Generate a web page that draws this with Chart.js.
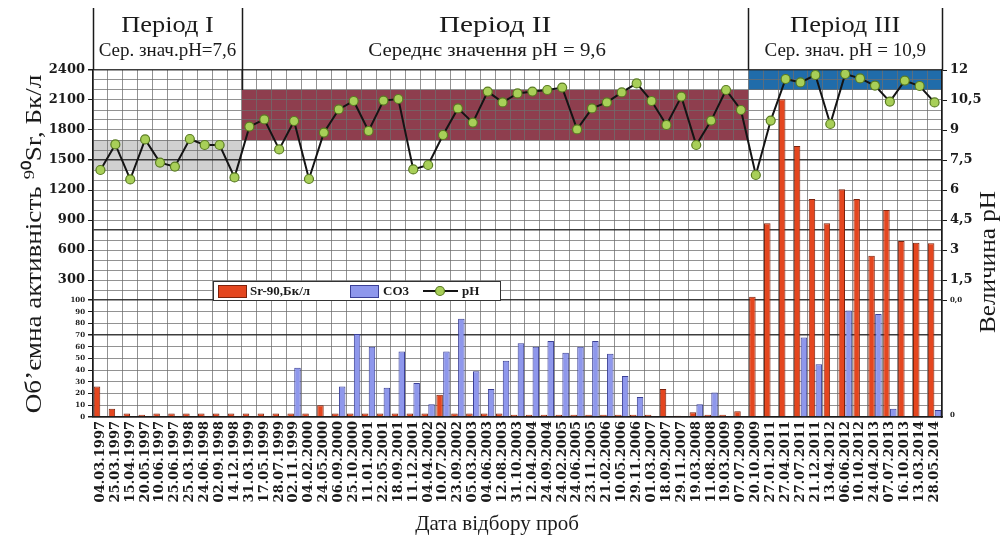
<!DOCTYPE html>
<html>
<head>
<meta charset="utf-8">
<script src="https://cdn.jsdelivr.net/npm/chart.js@4.4.1/dist/chart.umd.min.js"></script>
<style>
  html, body { margin: 0; padding: 0; background: #fff; }
  #wrap { position: relative; width: 1005px; height: 536px; }
  canvas { display: block; }
</style>
</head>
<body>
<div id="wrap"><canvas id="c" width="1005" height="536"></canvas></div>
<script>
// Sampling dates
const dates = [
  '04.03.1997','25.03.1997','15.04.1997','20.05.1997','10.06.1997','25.06.1997',
  '25.03.1998','24.06.1998','02.09.1998','14.12.1998',
  '31.03.1999','17.05.1999','28.07.1999','02.11.1999',
  '04.02.2000','24.05.2000','06.09.2000','25.10.2000',
  '11.01.2001','22.05.2001','18.09.2001','11.12.2001',
  '04.04.2002','10.07.2002','23.09.2002',
  '05.03.2003','04.06.2003','12.08.2003','31.10.2003',
  '12.04.2004','24.09.2004',
  '24.02.2005','24.06.2005','23.11.2005',
  '21.02.2006','10.05.2006','29.11.2006',
  '01.03.2007','18.09.2007','29.11.2007',
  '19.03.2008','11.08.2008','19.03.2009','07.07.2009',
  '20.10.2009',
  '27.01.2011','27.04.2011','27.07.2011',
  '21.12.2011','13.04.2012','06.06.2012','10.10.2012',
  '24.04.2013','07.07.2013','16.10.2013',
  '13.03.2014','28.05.2014'
];

// Volumetric activity of Sr-90, Bq/l
const sr90 = [
  26, 7, 3, 2, 3, 3, 3, 3, 3, 3,
  3, 3, 3, 3, 3, 10, 3, 3, 3, 3, 3, 3, 3, 19, 3, 3, 3, 3, 2, 2,
  2, 2, 2, 2, 2, 2, 2, 2, 24, 1, 4, 2, 2, 5,
  133, 867, 2107, 1640, 1110, 867, 1207, 1110, 543, 1000, 690, 673, 667
];

// Carbonate (CO3) content
const co3 = [
  null, null, null, null, null, null, null, null, null, null,
  null, null, null, 42, null, null, 26, 71, 60, 25, 56, 29, 11, 56, 84, 39, 24, 48, 63, 60,
  65, 55, 60, 65, 54, 35, 17, null, null, null, 11, 21, null, null,
  null, null, null, 68, 45, null, 91, null, 88, 7, null, null, 6
];

// pH of the samples
const ph = [
  7.0, 8.28, 6.53, 8.53, 7.37, 7.17, 8.55, 8.25, 8.25, 6.63,
  9.17, 9.53, 8.03, 9.45, 6.55, 8.87, 10.03, 10.45, 8.95, 10.47, 10.55, 7.03, 7.25, 8.75,
  10.08, 9.37, 10.92, 10.38, 10.83, 10.92, 11.0, 11.12, 9.03, 10.08, 10.38, 10.88, 11.33,
  10.45, 9.25, 10.67, 8.25, 9.47, 11.0, 10.0,
  6.75, 9.47, 11.55, 11.38, 11.75, 9.3, 11.8, 11.58, 11.22, 10.42, 11.47, 11.2, 10.38
];

// Periods
const periodNames = ['Період I', 'Період II', 'Період III'];
const periodNotes = ['Сер. знач.pH=7,6', 'Середнє значення pH = 9,6', 'Сер. знач. pH = 10,9'];
const periodFirst = [0, 10, 44];
const periodLast = [9, 43, 56];
const bandFrom = [1400, 1700, 2200];
const bandTo = [1700, 2200, 2400];

// Axis ticks
const lowTicks = [0, 10, 20, 30, 40, 50, 60, 70, 80, 90, 100];
const highTicks = [200, 300, 400, 500, 600, 700, 800, 900, 1000, 1100, 1200, 1300, 1400, 1500,
  1600, 1700, 1800, 1900, 2000, 2100, 2200, 2300, 2400];
const phTicks = [0, 1.5, 3, 4.5, 6, 7.5, 9, 10.5, 12];

// value -> share of plot height, piecewise (lower panel 0..100, upper panel above)
const SCALE_STOPS = {
  yL: [[0, 0], [100, 117 / 347], [2400, 1]],
  yPH: [[0, 117 / 347], [1.5, 137 / 347], [12, 1]]
};
const SCALE_TICKS = {
  yL: lowTicks.concat(highTicks),
  yPH: phTicks
};

class PiecewiseScale extends Chart.LinearScale {
  static id = 'piecewise';
  static defaults = {};
  _toDecimal(v) {
    const s = SCALE_STOPS[this.id];
    if (v <= s[0][0]) return s[0][1];
    for (let i = 1; i < s.length; i++) {
      if (v <= s[i][0]) {
        const [v0, f0] = s[i - 1], [v1, f1] = s[i];
        return f0 + (v - v0) / (v1 - v0) * (f1 - f0);
      }
    }
    return s[s.length - 1][1];
  }
  getPixelForValue(v) {
    if (v === null || v === undefined || isNaN(v)) return NaN;
    return this.getPixelForDecimal(this._toDecimal(v));
  }
  getValueForPixel(p) {
    const d = this.getDecimalForPixel(p);
    const s = SCALE_STOPS[this.id];
    for (let i = 1; i < s.length; i++) {
      if (d <= s[i][1]) {
        const [v0, f0] = s[i - 1], [v1, f1] = s[i];
        return v0 + (d - f0) / (f1 - f0) * (v1 - v0);
      }
    }
    return s[s.length - 1][0];
  }
  buildTicks() {
    return SCALE_TICKS[this.id].map(v => ({ value: v }));
  }
}
Chart.register(PiecewiseScale);

const SERIF = "'Liberation Serif', 'Times New Roman', serif";
const TICKFONT = "'DejaVu Serif', serif";
const INK = '#1a1a1a';
const GRID = 'rgba(110,110,110,0.75)';
const GRID_DARK = 'rgba(40,40,40,0.9)';
const bandColors = ['rgba(200,200,200,0.85)', 'rgb(142,62,78)', 'rgb(32,108,170)'];
const darkLeft = [0, 70, 100, 800, 1500, 2400];

function stretchedText(ctx, text, x, y, sx, angle) {
  ctx.save();
  ctx.translate(x, y);
  if (angle) ctx.rotate(angle);
  ctx.scale(sx, 1);
  ctx.fillText(text, 0, 0);
  ctx.restore();
}

const decor = {
  id: 'decor',
  beforeDraw(chart) {
    const { ctx, scales: { x, yL } } = chart;
    ctx.save();
    for (let p = 0; p < periodFirst.length; p++) {
      const x0 = x.getPixelForValue(periodFirst[p] - 0.5);
      const x1 = x.getPixelForValue(periodLast[p] + 0.5);
      const y0 = yL.getPixelForValue(bandTo[p]);
      const y1 = yL.getPixelForValue(bandFrom[p]);
      ctx.fillStyle = bandColors[p];
      ctx.fillRect(x0, y0, x1 - x0, y1 - y0);
    }
    ctx.restore();
  },
  afterDraw(chart) {
    const { ctx, chartArea: a, scales: { x, yL } } = chart;
    ctx.save();
    // header dividers
    ctx.strokeStyle = INK;
    ctx.lineWidth = 1.5;
    const divs = [x.getPixelForValue(periodFirst[0] - 0.5)];
    for (let p = 0; p < periodLast.length; p++) divs.push(x.getPixelForValue(periodLast[p] + 0.5));
    divs.forEach((dx, i) => {
      ctx.beginPath();
      ctx.moveTo(Math.round(dx) + 0.5, 8);
      const yEnd = (i === 1) ? yL.getPixelForValue(bandTo[1]) : a.top;
      ctx.lineTo(Math.round(dx) + 0.5, yEnd);
      ctx.stroke();
    });
    // header texts
    ctx.fillStyle = INK;
    ctx.textAlign = 'center';
    ctx.textBaseline = 'alphabetic';
    const nameStretch = [1.1, 1.22, 1.1];
    const noteStretch = [1.0, 1.1, 1.0];
    const noteShift = [0, -8, 0];
    for (let p = 0; p < periodNames.length; p++) {
      const cx = (divs[p] + divs[p + 1]) / 2;
      ctx.font = `24px ${SERIF}`;
      stretchedText(ctx, periodNames[p], cx, 32, nameStretch[p]);
      ctx.font = `19px ${SERIF}`;
      stretchedText(ctx, periodNotes[p], cx + noteShift[p], 56, noteStretch[p]);
    }
    // axis titles
    ctx.font = `24px ${SERIF}`;
    stretchedText(ctx, 'Об\u2019ємна активність \u2079\u2070Sr, Бк/л', 41, 244, 1.13, -Math.PI / 2);
    stretchedText(ctx, 'Величина рН', 995, 262, 1.05, -Math.PI / 2);
    ctx.font = `21px ${SERIF}`;
    ctx.fillText('Дата відбору проб', 497, 530);
    // lower-panel zero on the right
    ctx.font = `bold 7px ${TICKFONT}`;
    ctx.textAlign = 'left';
    ctx.textBaseline = 'middle';
    ctx.fillText('0', a.right + 8, yL.getPixelForValue(0) - 2);
    // legend
    const lx = 213, ly = 281, lw = 287, lh = 19;
    ctx.fillStyle = '#fff';
    ctx.fillRect(lx, ly, lw, lh);
    ctx.strokeStyle = '#333';
    ctx.lineWidth = 1;
    ctx.strokeRect(lx + 0.5, ly + 0.5, lw, lh);
    const ds = chart.data.datasets;
    ctx.font = `bold 13px ${SERIF}`;
    ctx.textBaseline = 'middle';
    ctx.textAlign = 'left';
    // Sr-90 swatch
    ctx.fillStyle = ds[0].backgroundColor; ctx.fillRect(218, 285, 28, 12);
    ctx.strokeStyle = ds[0].borderColor; ctx.strokeRect(218.5, 285.5, 28, 12);
    ctx.fillStyle = INK; ctx.fillText(ds[0].label, 250, ly + lh / 2 + 1);
    // CO3 swatch
    ctx.fillStyle = ds[1].backgroundColor; ctx.fillRect(350, 285, 28, 12);
    ctx.strokeStyle = ds[1].borderColor; ctx.strokeRect(350.5, 285.5, 28, 12);
    ctx.fillStyle = INK; ctx.fillText(ds[1].label, 383, ly + lh / 2 + 1);
    // pH line sample
    ctx.strokeStyle = ds[2].borderColor; ctx.lineWidth = 2;
    ctx.beginPath(); ctx.moveTo(423, 291); ctx.lineTo(458, 291); ctx.stroke();
    ctx.fillStyle = ds[2].pointBackgroundColor; ctx.strokeStyle = ds[2].pointBorderColor; ctx.lineWidth = 1.2;
    ctx.beginPath(); ctx.arc(440, 291, 4.5, 0, Math.PI * 2); ctx.fill(); ctx.stroke();
    ctx.fillStyle = INK; ctx.fillText(ds[2].label, 462, ly + lh / 2 + 1);
    ctx.restore();
  }
};

new Chart(document.getElementById('c'), {
  data: {
    labels: dates,
    datasets: [
      {
        type: 'bar', label: 'Sr-90,Бк/л', data: sr90, yAxisID: 'yL',
        backgroundColor: '#e4461f', borderColor: '#7d220c', borderWidth: 1,
        categoryPercentage: 0.92, barPercentage: 0.95, order: 2
      },
      {
        type: 'bar', label: 'CO3', data: co3, yAxisID: 'yL',
        backgroundColor: '#8e97ec', borderColor: '#3a3f96', borderWidth: 1,
        categoryPercentage: 0.92, barPercentage: 0.95, order: 3
      },
      {
        type: 'line', label: 'pH', data: ph, yAxisID: 'yPH',
        borderColor: '#141414', borderWidth: 2, tension: 0,
        pointRadius: 4.5, pointBackgroundColor: '#a8cf58', pointBorderColor: '#5a7c22',
        pointBorderWidth: 1.2, order: 1
      }
    ]
  },
  options: {
    responsive: false,
    animation: false,
    events: [],
    layout: { padding: { top: 70, left: 0, right: 0, bottom: 0 } },
    plugins: { legend: { display: false }, tooltip: { enabled: false } },
    scales: {
      x: {
        type: 'category',
        offset: true,
        afterFit: s => { s.height = 119; },
        ticks: {
          autoSkip: false, minRotation: 90, maxRotation: 90, padding: 4,
          color: INK, font: { family: TICKFONT, size: 13, weight: 'bold' }
        },
        grid: { offset: true, color: GRID, lineWidth: 1, drawTicks: false },
        border: { color: INK, width: 1.5 }
      },
      yL: {
        type: 'piecewise', position: 'left', min: 0, max: 2400,
        afterFit: s => { s.width = 93; },
        ticks: {
          autoSkip: false, padding: 3, color: INK,
          font: c => (c.tick && c.tick.value <= 100)
            ? { family: TICKFONT, size: 7, weight: 'bold' }
            : { family: TICKFONT, size: 13, weight: 'bold' },
          callback: v => (v <= 100 || v % 300 === 0) ? String(v) : ''
        },
        grid: {
          color: c => darkLeft.includes(c.tick.value) ? GRID_DARK : GRID,
          lineWidth: c => darkLeft.includes(c.tick.value) ? 1.5 : 1,
          tickLength: 5,
          tickColor: c => (c.tick.value <= 100 || c.tick.value % 300 === 0) ? INK : 'rgba(0,0,0,0)'
        },
        border: { color: INK, width: 1.5 }
      },
      yPH: {
        type: 'piecewise', position: 'right', min: 0, max: 12,
        afterFit: s => { s.width = 63; },
        ticks: {
          autoSkip: false, padding: 3, color: INK,
          font: c => (c.tick && c.tick.value === 0)
            ? { family: TICKFONT, size: 7, weight: 'bold' }
            : { family: TICKFONT, size: 13, weight: 'bold' },
          callback: v => v === 0 ? '0,0' : String(v).replace('.', ',')
        },
        grid: { drawOnChartArea: false, tickLength: 5, tickColor: INK },
        border: { color: INK, width: 1.5 }
      }
    }
  },
  plugins: [decor]
});
</script>
</body>
</html>
